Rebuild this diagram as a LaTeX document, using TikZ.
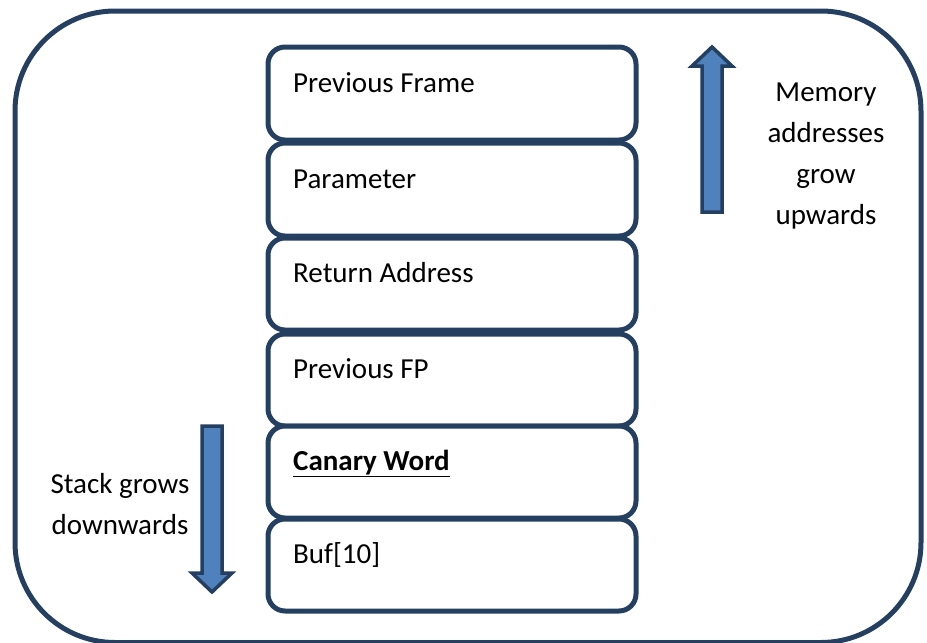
\documentclass[tikz,border=0pt]{standalone}
\usepackage{fontspec}
\setmainfont{Carlito}
\definecolor{navy}{HTML}{243F60}
\definecolor{fillblue}{HTML}{4F81BD}
\begin{document}
\begin{tikzpicture}[x=1pt,y=-1pt,
  frame/.style={draw=navy,line width=5pt,rounded corners=100pt},
  stackbox/.style={draw=navy,line width=5pt,rounded corners=17pt,fill=white},
  lbl/.style={anchor=base west,inner sep=0pt,font=\fontsize{29}{34}\selectfont},
  side/.style={align=center,inner sep=0pt,font=\fontsize{29}{41}\selectfont},
  bigarrow/.style={draw=navy,line width=3.5pt,fill=fillblue,line join=miter}]
\useasboundingbox (0,0) rectangle (927,643);
\draw[frame] (15,11) rectangle (921,642.5);
\draw[stackbox] (268,47) rectangle (636,140);
\draw[stackbox] (268,143) rectangle (636,236);
\draw[stackbox] (268,238) rectangle (636,330);
\draw[stackbox] (268,334) rectangle (636,426);
\draw[stackbox] (268,426) rectangle (636,518);
\draw[stackbox] (268,519) rectangle (636,611);
\node[lbl] (t1) at (293,92) {Previous Frame};
\node[lbl] (t2) at (293,188) {Parameter};
\node[lbl] (t3) at (293,282) {Return Address};
\node[lbl] (t4) at (293,378) {Previous FP};
\node[lbl] (t5) at (293,470) {\textbf{\underline{Canary Word}}};
\node[lbl] (t6) at (293,563) {Buf[10]};
\draw[bigarrow] (702,212) -- (702,66) -- (692,66) -- (712,47) -- (732,66) -- (722,66) -- (722,212) -- cycle;
\draw[bigarrow] (202,426) -- (222,426) -- (222,573) -- (232,573) -- (212,592) -- (192,573) -- (202,573) -- cycle;
\node[side] (mem) at (826,156) {Memory\\addresses\\grow\\upwards};
\node[side] (stk) at (120,504) {Stack grows\\downwards};
\end{tikzpicture}
\end{document}
